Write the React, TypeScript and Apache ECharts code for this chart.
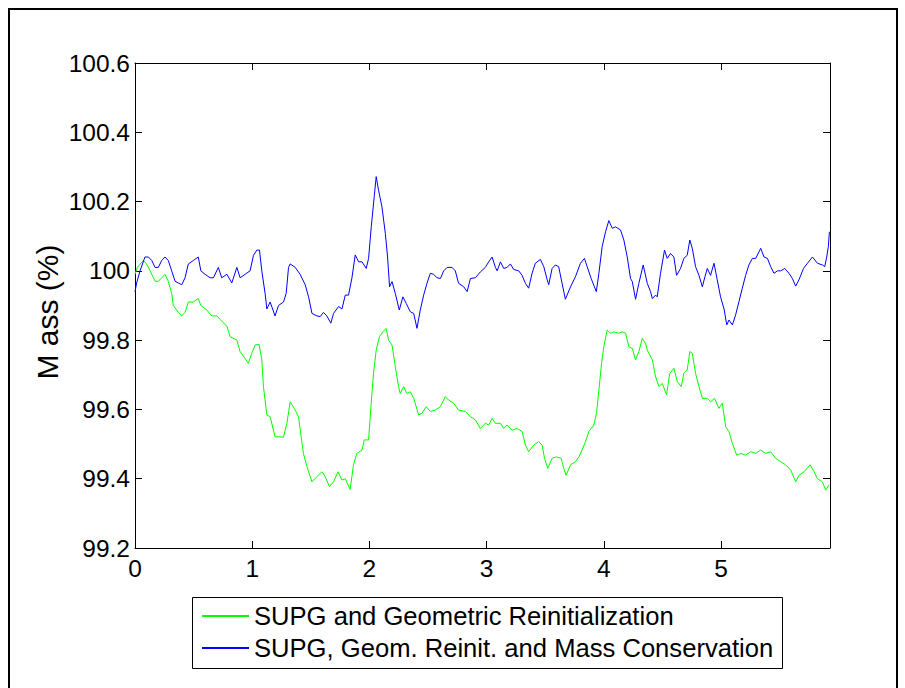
import React, { useEffect, useRef } from "react";
import * as echarts from "echarts";

const xTickLabels = ["0", "1", "2", "3", "4", "5"];
const seriesNames = [
  "SUPG and Geometric Reinitialization",
  "SUPG, Geom. Reinit. and Mass Conservation",
];

const greenT = [
  0, 0.02, 0.071, 0.099, 0.129, 0.171, 0.199, 0.228, 0.256, 0.284, 0.313, 0.327, 0.37, 0.399, 0.427, 0.455,
  0.498, 0.54, 0.562, 0.613, 0.655, 0.698, 0.726, 0.784, 0.812, 0.869, 0.897, 0.939, 0.967, 0.996, 1.025,
  1.059, 1.082, 1.096, 1.125, 1.153, 1.195, 1.224, 1.267, 1.296, 1.324, 1.367, 1.395, 1.437, 1.467, 1.51,
  1.552, 1.595, 1.623, 1.659, 1.694, 1.732, 1.766, 1.794, 1.836, 1.864, 1.893, 1.937, 1.956, 1.993, 2.013,
  2.035, 2.058, 2.086, 2.115, 2.142, 2.164, 2.193, 2.221, 2.249, 2.263, 2.292, 2.32, 2.349, 2.378, 2.42,
  2.449, 2.485, 2.52, 2.562, 2.606, 2.648, 2.676, 2.719, 2.761, 2.819, 2.862, 2.904, 2.947, 2.989, 3.018,
  3.047, 3.075, 3.118, 3.146, 3.175, 3.217, 3.261, 3.303, 3.331, 3.359, 3.402, 3.444, 3.474, 3.494, 3.522,
  3.559, 3.596, 3.636, 3.658, 3.678, 3.716, 3.758, 3.787, 3.815, 3.844, 3.872, 3.915, 3.938, 3.958, 3.981,
  4.0, 4.029, 4.057, 4.085, 4.128, 4.158, 4.186, 4.214, 4.243, 4.271, 4.299, 4.328, 4.357, 4.371, 4.414,
  4.442, 4.47, 4.499, 4.535, 4.563, 4.598, 4.627, 4.661, 4.683, 4.712, 4.734, 4.755, 4.783, 4.812, 4.841,
  4.883, 4.911, 4.945, 4.982, 5.011, 5.04, 5.068, 5.097, 5.134, 5.168, 5.21, 5.254, 5.296, 5.339, 5.381,
  5.424, 5.466, 5.51, 5.552, 5.595, 5.637, 5.665, 5.709, 5.76, 5.794, 5.823, 5.865, 5.893, 5.922,
];
const greenV = [
  99.99, 100.01, 100.03, 100.02, 100.0, 99.97, 99.97, 99.98, 99.99, 99.97, 99.935, 99.9, 99.88, 99.87, 99.88,
  99.91, 99.91, 99.92, 99.9, 99.887, 99.87, 99.87, 99.86, 99.84, 99.81, 99.8, 99.767, 99.747, 99.733, 99.762,
  99.786, 99.788, 99.743, 99.666, 99.584, 99.579, 99.521, 99.521, 99.52, 99.56, 99.622, 99.598, 99.579,
  99.473, 99.435, 99.391, 99.406, 99.42, 99.406, 99.377, 99.391, 99.42, 99.396, 99.4, 99.369, 99.44, 99.473,
  99.483, 99.512, 99.512, 99.608, 99.704, 99.771, 99.81, 99.824, 99.834, 99.8, 99.786, 99.723, 99.666,
  99.646, 99.666, 99.646, 99.651, 99.632, 99.584, 99.589, 99.608, 99.594, 99.598, 99.608, 99.637, 99.627,
  99.618, 99.598, 99.594, 99.579, 99.57, 99.545, 99.56, 99.555, 99.574, 99.56, 99.56, 99.545, 99.555, 99.54,
  99.545, 99.536, 99.497, 99.478, 99.497, 99.507, 99.497, 99.459, 99.43, 99.459, 99.463, 99.459, 99.43,
  99.41, 99.44, 99.449, 99.463, 99.483, 99.507, 99.536, 99.555, 99.589, 99.656, 99.733, 99.781, 99.829,
  99.82, 99.824, 99.82, 99.824, 99.82, 99.781, 99.776, 99.743, 99.767, 99.805, 99.79, 99.771, 99.743,
  99.694, 99.666, 99.675, 99.642, 99.704, 99.719, 99.68, 99.666, 99.704, 99.714, 99.767, 99.762, 99.704,
  99.666, 99.632, 99.632, 99.622, 99.632, 99.603, 99.618, 99.55, 99.536, 99.502, 99.468, 99.473, 99.468,
  99.478, 99.473, 99.483, 99.473, 99.478, 99.459, 99.449, 99.44, 99.425, 99.391, 99.41, 99.42, 99.44, 99.42,
  99.4, 99.391, 99.367, 99.382,
];

const blueT = [
  0, 0.014, 0.043, 0.085, 0.114, 0.143, 0.171, 0.199, 0.228, 0.256, 0.284, 0.313, 0.342, 0.37, 0.399, 0.427,
  0.455, 0.498, 0.54, 0.562, 0.598, 0.641, 0.669, 0.711, 0.74, 0.784, 0.826, 0.869, 0.897, 0.939, 0.982,
  1.011, 1.04, 1.062, 1.082, 1.11, 1.125, 1.153, 1.195, 1.224, 1.267, 1.29, 1.31, 1.324, 1.367, 1.409,
  1.452, 1.481, 1.51, 1.552, 1.58, 1.608, 1.637, 1.671, 1.694, 1.737, 1.766, 1.794, 1.822, 1.851, 1.879,
  1.908, 1.937, 1.973, 1.993, 2.016, 2.041, 2.058, 2.078, 2.107, 2.136, 2.155, 2.172, 2.193, 2.221, 2.255,
  2.286, 2.314, 2.349, 2.378, 2.406, 2.434, 2.463, 2.491, 2.52, 2.548, 2.577, 2.606, 2.634, 2.663, 2.705,
  2.733, 2.761, 2.805, 2.834, 2.862, 2.904, 2.947, 2.989, 3.018, 3.047, 3.075, 3.09, 3.118, 3.146, 3.175,
  3.203, 3.231, 3.274, 3.303, 3.331, 3.359, 3.388, 3.416, 3.459, 3.488, 3.517, 3.53, 3.559, 3.587, 3.615,
  3.644, 3.672, 3.716, 3.758, 3.801, 3.835, 3.858, 3.892, 3.936, 3.958, 3.986, 4.015, 4.043, 4.072, 4.1,
  4.143, 4.171, 4.2, 4.228, 4.243, 4.271, 4.299, 4.336, 4.371, 4.399, 4.414, 4.442, 4.456, 4.484, 4.518,
  4.541, 4.569, 4.598, 4.621, 4.655, 4.683, 4.712, 4.734, 4.755, 4.783, 4.812, 4.841, 4.863, 4.883, 4.911,
  4.94, 4.968, 4.996, 5.026, 5.049, 5.068, 5.097, 5.125, 5.153, 5.182, 5.21, 5.238, 5.268, 5.296, 5.339,
  5.367, 5.396, 5.424, 5.452, 5.482, 5.51, 5.544, 5.58, 5.609, 5.637, 5.665, 5.704, 5.738, 5.78, 5.823,
  5.865, 5.885, 5.902, 5.916, 5.925,
];
const blueV = [
  99.94, 99.965, 100.0, 100.04, 100.04, 100.03, 100.01, 100.01, 100.03, 100.04, 100.03, 100.0, 99.97, 99.965,
  99.96, 99.98, 100.02, 100.03, 100.04, 100.0, 99.99, 99.98, 99.98, 100.01, 99.98, 99.99, 99.965, 100.01,
  99.98, 99.99, 100.0, 100.045, 100.06, 100.06, 100.0, 99.935, 99.89, 99.91, 99.87, 99.9, 99.91, 99.935,
  100.01, 100.02, 100.01, 99.99, 99.96, 99.925, 99.877, 99.87, 99.868, 99.88, 99.87, 99.849, 99.877, 99.897,
  99.89, 99.93, 99.93, 99.98, 100.046, 100.026, 100.026, 100.007, 100.036, 100.127, 100.214, 100.272,
  100.233, 100.185, 100.108, 100.04, 99.954, 99.969, 99.935, 99.887, 99.925, 99.906, 99.882, 99.877, 99.834,
  99.887, 99.93, 99.964, 99.993, 99.99, 99.98, 99.978, 100.0, 100.01, 100.01, 100.0, 99.964, 99.954, 99.94,
  99.978, 99.98, 99.997, 100.01, 100.026, 100.04, 100.01, 100.0, 100.026, 100.007, 100.01, 100.02, 100.004,
  100.0, 99.987, 99.964, 99.95, 99.993, 100.022, 100.033, 100.012, 99.974, 99.96, 100.007, 100.017, 100.012,
  99.964, 99.918, 99.954, 99.983, 100.022, 100.036, 100.012, 99.978, 99.94, 99.993, 100.07, 100.113,
  100.145, 100.123, 100.127, 100.118, 100.089, 100.04, 99.978, 99.969, 99.918, 99.964, 100.017, 99.964,
  99.94, 99.92, 99.93, 99.925, 99.993, 100.06, 100.036, 100.05, 100.04, 99.987, 100.007, 100.036, 100.045,
  100.089, 100.065, 100.012, 99.987, 99.954, 99.983, 100.007, 99.987, 100.022, 99.974, 99.925, 99.89,
  99.844, 99.858, 99.844, 99.873, 99.911, 99.95, 99.987, 100.017, 100.036, 100.036, 100.065, 100.04,
  100.036, 100.012, 99.993, 100.0, 100.0, 100.007, 99.993, 99.978, 99.956, 99.974, 100.007, 100.022, 100.04,
  100.022, 100.017, 100.012, 100.04, 100.07, 100.113,
];

const FONT = "'Liberation Sans', Arial, Helvetica, sans-serif";

export default function App() {
  const ref = useRef<HTMLDivElement>(null);
  useEffect(() => {
    if (!ref.current) return;
    const chart = echarts.init(ref.current, undefined, { renderer: "svg" });
    const green = greenT.map((t, i) => [t, greenV[i]]);
    const blue = blueT.map((t, i) => [t, blueV[i]]);
    const axisLine = { show: true, onZero: false, lineStyle: { color: "#000", width: 1 } };
    const tick = { show: true, inside: true, length: 7, lineStyle: { color: "#000", width: 1 } };
    chart.setOption({
      animation: false,
      backgroundColor: "#fff",
      grid: { left: 135, right: 75, top: 63, bottom: 140, containLabel: false },
      xAxis: [
        {
          type: "value",
          min: 0,
          max: 5.93,
          interval: 1,
          position: "bottom",
          axisLine,
          axisTick: tick,
          splitLine: { show: false },
          axisLabel: {
            show: true,
            margin: 8,
            showMaxLabel: false,
            color: "#000",
            fontSize: 24.5,
            fontFamily: FONT,
            formatter: (v: number) => {
              const i = Math.round(v);
              return Math.abs(v - i) < 1e-6 && i < xTickLabels.length ? xTickLabels[i] : "";
            },
          },
        },
        {
          type: "value",
          min: 0,
          max: 5.93,
          interval: 1,
          position: "top",
          axisLine,
          axisTick: tick,
          splitLine: { show: false },
          axisLabel: { show: false },
        },
      ],
      yAxis: [
        {
          type: "value",
          min: 99.2,
          max: 100.6,
          interval: 0.2,
          position: "left",
          axisLine,
          axisTick: tick,
          splitLine: { show: false },
          axisLabel: {
            margin: 5,
            color: "#000",
            fontSize: 24.5,
            fontFamily: FONT,
            formatter: (v: number) => String(+v.toFixed(1)),
          },
        },
        {
          type: "value",
          min: 99.2,
          max: 100.6,
          interval: 0.2,
          position: "right",
          axisLine,
          axisTick: tick,
          splitLine: { show: false },
          axisLabel: { show: false },
        },
      ],
      legend: {
        show: true,
        orient: "vertical",
        left: 201,
        top: 600,
        itemWidth: 47,
        itemHeight: 2,
        itemGap: 0,
        padding: 0,
        selectedMode: false,
        itemStyle: { opacity: 0, borderWidth: 0 },
        data: seriesNames,
        textStyle: { color: "#000", fontSize: 25.6, fontFamily: FONT, lineHeight: 32 },
      },
      graphic: [
        {
          type: "rect",
          silent: true,
          shape: { x: 9, y: 9, width: 888, height: 700 },
          style: { fill: "none", stroke: "#000", lineWidth: 2 },
        },
        {
          type: "rect",
          silent: true,
          shape: { x: 192.5, y: 597.5, width: 590, height: 71 },
          style: { fill: "none", stroke: "#000", lineWidth: 1 },
        },
        {
          type: "text",
          silent: true,
          x: 47,
          y: 312,
          rotation: Math.PI / 2,
          style: {
            text: "M ass (%)",
            fontSize: 30,
            fontFamily: FONT,
            fill: "#000",
            textAlign: "center",
            textVerticalAlign: "middle",
          },
        },
      ],
      series: [
        {
          name: seriesNames[0],
          type: "line",
          xAxisIndex: 0,
          yAxisIndex: 0,
          data: green,
          symbol: "none",
          showSymbol: false,
          lineStyle: { color: "#00ff00", width: 1 },
          itemStyle: { color: "#00ff00" },
        },
        {
          name: seriesNames[1],
          type: "line",
          xAxisIndex: 0,
          yAxisIndex: 0,
          data: blue,
          symbol: "none",
          showSymbol: false,
          lineStyle: { color: "#0000ff", width: 1 },
          itemStyle: { color: "#0000ff" },
        },
      ],
    });
    return () => chart.dispose();
  }, []);
  return (
    <div
      ref={ref}
      style={{ position: "absolute", left: 0, top: 0, width: 905, height: 688, background: "#fff" }}
    />
  );
}
